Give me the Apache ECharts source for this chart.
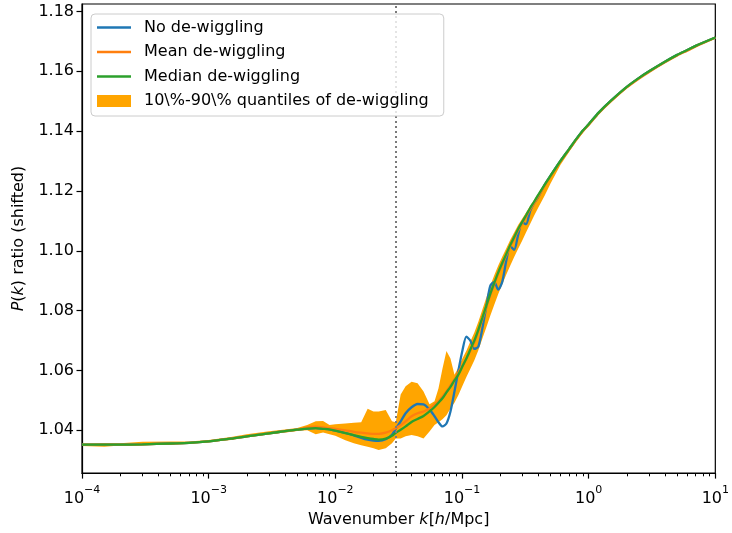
<!DOCTYPE html>
<html>
<head>
<meta charset="utf-8">
<script src="https://cdn.jsdelivr.net/npm/echarts@6/dist/echarts.min.js"></script>
<style>
  html, body { margin: 0; padding: 0; background: #ffffff; }
  #chart { width: 732px; height: 533px; }
</style>
</head>
<body>
<div id="chart"></div>
<script>
// Wavenumbers k [h/Mpc] shared by every curve
const k = [
  1e-4, 1.5e-4, 2e-4, 3e-4, 5e-4, 7e-4, 1e-3, 1.5e-3, 2e-3, 3e-3,
  4e-3, 5e-3, 6e-3, 7e-3, 8e-3, 9e-3, 0.01, 0.012, 0.014, 0.016,
  0.018, 0.02, 0.022, 0.025, 0.028, 0.03,
  0.0328, 0.0359, 0.04, 0.0446, 0.0497, 0.0554, 0.0607, 0.0652, 0.0701, 0.0754,
  0.0811, 0.0872, 0.0937, 0.1007, 0.1083, 0.1164, 0.1252, 0.1346, 0.1447, 0.1555,
  0.1672, 0.1798, 0.1933, 0.2078, 0.2234, 0.2402, 0.2582, 0.2775, 0.2984, 0.3208,
  0.3449, 0.3708, 0.3987,
  0.45, 0.5, 0.6, 0.7, 0.8, 0.9, 1, 1.2, 1.5, 2, 2.5, 3, 4, 5, 6, 7, 10
];

// P(k) ratio without de-wiggling (BAO wiggles still present)
const noDewiggle = [
  1.0352, 1.0352, 1.0352, 1.0353, 1.0356, 1.0358, 1.0363, 1.0372, 1.0380, 1.0390,
  1.0397, 1.0402, 1.0406, 1.0407, 1.0405, 1.0403, 1.0399, 1.0391, 1.0383, 1.0375,
  1.0369, 1.0366, 1.0365, 1.0370, 1.0385, 1.0405,
  1.0430, 1.0457, 1.0477, 1.0488, 1.0487, 1.0470, 1.0447, 1.0427, 1.0413, 1.0423,
  1.0463, 1.0530, 1.0600, 1.0666, 1.0713, 1.0700, 1.0672, 1.0680, 1.0740, 1.0813,
  1.0883, 1.0896, 1.0870, 1.0896, 1.0966, 1.1016, 1.1003, 1.1053, 1.1096, 1.1089,
  1.1133, 1.1159, 1.1179,
  1.1221, 1.1251, 1.1301, 1.1340, 1.1374, 1.1402, 1.1423, 1.1462, 1.1502, 1.1548,
  1.1578, 1.1600, 1.1632, 1.1655, 1.1671, 1.1685, 1.1713
];

// Mean over de-wiggled realisations
const meanDewiggle = [
  1.0352, 1.0352, 1.0352, 1.0353, 1.0356, 1.0358, 1.0363, 1.0372, 1.0380, 1.0390,
  1.0397, 1.0402, 1.0410, 1.0412, 1.0410, 1.0407, 1.0405, 1.0400, 1.0395, 1.0392,
  1.0390, 1.0388, 1.0388, 1.0392, 1.0400, 1.0407,
  1.0417, 1.0430, 1.0447, 1.0457, 1.0463, 1.0473, 1.0487, 1.0497, 1.0513, 1.0530,
  1.0550, 1.0570, 1.0593, 1.0616, 1.0640, 1.0666, 1.0695, 1.0731, 1.0771, 1.0811,
  1.0851, 1.0888, 1.0923, 1.0954, 1.0984, 1.1014, 1.1041, 1.1068, 1.1091, 1.1114,
  1.1138, 1.1159, 1.1181,
  1.1219, 1.1249, 1.1299, 1.1338, 1.1372, 1.1400, 1.1421, 1.1460, 1.1500, 1.1546,
  1.1576, 1.1598, 1.1630, 1.1653, 1.1669, 1.1683, 1.1712
];

// Median over de-wiggled realisations
const medianDewiggle = [
  1.0352, 1.0352, 1.0352, 1.0353, 1.0356, 1.0358, 1.0363, 1.0372, 1.0380, 1.0390,
  1.0397, 1.0402, 1.0406, 1.0407, 1.0405, 1.0403, 1.0399, 1.0391, 1.0384, 1.0378,
  1.0374, 1.0371, 1.0369, 1.0372, 1.0382, 1.0392,
  1.0402, 1.0413, 1.0428, 1.0438, 1.0448, 1.0463, 1.0478, 1.0492, 1.0507, 1.0527,
  1.0545, 1.0567, 1.0586, 1.0613, 1.0640, 1.0670, 1.0700, 1.0736, 1.0776, 1.0816,
  1.0856, 1.0893, 1.0928, 1.0959, 1.0989, 1.1019, 1.1046, 1.1073, 1.1096, 1.1119,
  1.1143, 1.1164, 1.1186,
  1.1221, 1.1251, 1.1301, 1.1340, 1.1374, 1.1402, 1.1423, 1.1462, 1.1502, 1.1548,
  1.1578, 1.1600, 1.1632, 1.1655, 1.1671, 1.1685, 1.1713
];

// 10% quantile of the de-wiggled realisations (lower edge of the band)
const quantile10 = [
  1.0348, 1.0345, 1.0349, 1.0350, 1.0352, 1.0355, 1.0360, 1.0368, 1.0377, 1.0387,
  1.0393, 1.0398, 1.0400, 1.0387, 1.0393, 1.0387, 1.0382, 1.0367, 1.0357, 1.0350,
  1.0345, 1.0340, 1.0334, 1.0340, 1.0357, 1.0373,
  1.0373, 1.0380, 1.0384, 1.0380, 1.0373, 1.0396, 1.0418, 1.0427, 1.0437, 1.0450,
  1.0473, 1.0492, 1.0518, 1.0548, 1.0578, 1.0606, 1.0634, 1.0668, 1.0706, 1.0744,
  1.0783, 1.0820, 1.0856, 1.0888, 1.0920, 1.0950, 1.0979, 1.1007, 1.1034, 1.1062,
  1.1090, 1.1117, 1.1143,
  1.1185, 1.1225, 1.1288, 1.1330, 1.1366, 1.1395, 1.1417, 1.1457, 1.1496, 1.1543,
  1.1574, 1.1596, 1.1628, 1.1652, 1.1668, 1.1682, 1.1710
];

// 90% quantile of the de-wiggled realisations (upper edge of the band)
const quantile90 = [
  1.0355, 1.0357, 1.0357, 1.0362, 1.0363, 1.0363, 1.0368, 1.0378, 1.0387, 1.0397,
  1.0403, 1.0408, 1.0418, 1.0430, 1.0431, 1.0418, 1.0420, 1.0423, 1.0425, 1.0427,
  1.0472, 1.0463, 1.0463, 1.0468, 1.0430, 1.0427,
  1.0520, 1.0547, 1.0562, 1.0557, 1.0530, 1.0487, 1.0497, 1.0540, 1.0606, 1.0665,
  1.0640, 1.0586, 1.0610, 1.0640, 1.0666, 1.0697, 1.0727, 1.0763, 1.0803, 1.0843,
  1.0883, 1.0918, 1.0951, 1.0980, 1.1008, 1.1036, 1.1061, 1.1086, 1.1107, 1.1128,
  1.1150, 1.1170, 1.1191,
  1.1226, 1.1256, 1.1306, 1.1345, 1.1378, 1.1406, 1.1428, 1.1466, 1.1506, 1.1552,
  1.1582, 1.1604, 1.1636, 1.1659, 1.1675, 1.1690, 1.1716
];

// Scale where de-wiggling kicks in
const cutoffK = 0.03;

// Axis ticks
const xTicks = [1e-4, 1e-3, 1e-2, 1e-1, 1, 10];
const yTicks = [1.04, 1.06, 1.08, 1.10, 1.12, 1.14, 1.16, 1.18];

const seriesNames = [
  'No de-wiggling',
  'Mean de-wiggling',
  'Median de-wiggling',
  '10\\%-90\\% quantiles of de-wiggling'
];

const FONT = 'DejaVu Sans';
const colors = { blue: '#1f77b4', orange: '#ff7f0e', green: '#2ca02c', band: '#ffa500' };
const LINE_ICON = 'path://M0,0H34V2.3H0Z';

// minor log ticks 2..9 within each decade
const minorTicks = [];
for (let d = 0; d < xTicks.length - 1; d++) {
  for (let m = 2; m <= 9; m++) minorTicks.push(xTicks[d] * m);
}

function pairs(ys) { return k.map((x, i) => [x, ys[i]]); }

function lineSeries(name, ys, color, z) {
  return {
    name: name, type: 'line', data: pairs(ys), xAxisIndex: 0, yAxisIndex: 0,
    symbol: 'none', smooth: 0.25, z: z,
    lineStyle: { color: color, width: 2.3 }, itemStyle: { color: color },
    emphasis: { disabled: true }, animation: false
  };
}

const chart = echarts.init(document.getElementById('chart'), null, { renderer: 'canvas' });

const supExp = function (v) {
  const e = Math.round(Math.log10(v));
  return '{b|10}{s|' + (e < 0 ? '\u2212' : '') + Math.abs(e) + '}';
};

const option = {
  backgroundColor: '#ffffff',
  animation: false,
  grid: {
    left: 82, right: 14, top: 4, bottom: 58,
    show: true, borderColor: '#000000', borderWidth: 1.2, backgroundColor: 'transparent'
  },
  legend: {
    orient: 'vertical', left: 91, top: 14,
    padding: [5.5, 15, 7, 6],
    itemWidth: 34, itemHeight: 12, itemGap: 8.5,
    symbolKeepAspect: true,
    backgroundColor: 'rgba(255,255,255,0.8)',
    borderColor: '#cccccc', borderWidth: 1, borderRadius: 4,
    selectedMode: false,
    textStyle: { fontFamily: FONT, fontSize: 16, color: '#000000', padding: [0, 0, 0, 8] },
    data: [
      { name: seriesNames[0], icon: LINE_ICON },
      { name: seriesNames[1], icon: LINE_ICON },
      { name: seriesNames[2], icon: LINE_ICON },
      { name: seriesNames[3], icon: 'rect', itemStyle: { color: colors.band } }
    ],
    z: 10
  },
  xAxis: [
    {
      type: 'log', logBase: 10, min: xTicks[0], max: xTicks[xTicks.length - 1],
      axisLine: { show: true, onZero: false, lineStyle: { color: '#000000', width: 1.2 } },
      axisTick: { show: true, inside: false, length: 5.5, customValues: xTicks,
                  lineStyle: { color: '#000000', width: 1.2 } },
      axisLabel: {
        show: true, margin: 12, customValues: xTicks, formatter: supExp,
        color: '#000000',
        rich: {
          b: { fontFamily: FONT, fontSize: 16, color: '#000000', lineHeight: 22, verticalAlign: 'bottom' },
          s: { fontFamily: FONT, fontSize: 11, color: '#000000', lineHeight: 12, verticalAlign: 'top' }
        }
      },
      splitLine: { show: false },
      name: 'Wavenumber {i|k}[{i|h}/Mpc]',
      nameLocation: 'middle', nameGap: 38,
      nameTextStyle: {
        fontFamily: FONT, fontSize: 16, color: '#000000',
        rich: { i: { fontFamily: FONT, fontSize: 16, fontStyle: 'italic', color: '#000000' } }
      }
    },
    {
      type: 'log', logBase: 10, min: xTicks[0], max: xTicks[xTicks.length - 1],
      position: 'bottom',
      axisLine: { show: false },
      axisTick: { show: true, inside: false, length: 3.2, customValues: minorTicks,
                  lineStyle: { color: '#000000', width: 1 } },
      axisLabel: { show: false },
      splitLine: { show: false }
    }
  ],
  yAxis: {
    type: 'value', min: 1.0257, max: 1.1825,
    axisLine: { show: true, onZero: false, lineStyle: { color: '#000000', width: 1.2 } },
    axisTick: { show: true, inside: false, length: 5.5, customValues: yTicks,
                lineStyle: { color: '#000000', width: 1.2 } },
    axisLabel: {
      show: true, margin: 8, customValues: yTicks,
      formatter: function (v) { return v.toFixed(2); },
      fontFamily: FONT, fontSize: 16, color: '#000000'
    },
    splitLine: { show: false },
    name: '{i|P}({i|k}) ratio (shifted)',
    nameLocation: 'middle', nameGap: 55,
    nameTextStyle: {
      fontFamily: FONT, fontSize: 16, color: '#000000',
      rich: { i: { fontFamily: FONT, fontSize: 16, fontStyle: 'italic', color: '#000000' } }
    }
  },
  series: [
    {
      name: seriesNames[3], type: 'custom', xAxisIndex: 0, yAxisIndex: 0, z: 1,
      itemStyle: { color: colors.band },
      data: [[k[0], quantile10[0]]],
      clip: true,
      renderItem: function (params, api) {
        const pts = [];
        for (let i = 0; i < k.length; i++) pts.push(api.coord([k[i], quantile90[i]]));
        for (let i = k.length - 1; i >= 0; i--) pts.push(api.coord([k[i], quantile10[i]]));
        return { type: 'polygon', shape: { points: pts }, style: { fill: colors.band } };
      },
      markLine: {
        silent: true, symbol: 'none', label: { show: false },
        lineStyle: { color: '#7a7a7a', type: [2, 3], width: 2 },
        data: [{ xAxis: cutoffK }]
      }
    },
    lineSeries(seriesNames[0], noDewiggle, colors.blue, 2),
    lineSeries(seriesNames[1], meanDewiggle, colors.orange, 3),
    lineSeries(seriesNames[2], medianDewiggle, colors.green, 4)
  ]
};

chart.setOption(option);
</script>
</body>
</html>
